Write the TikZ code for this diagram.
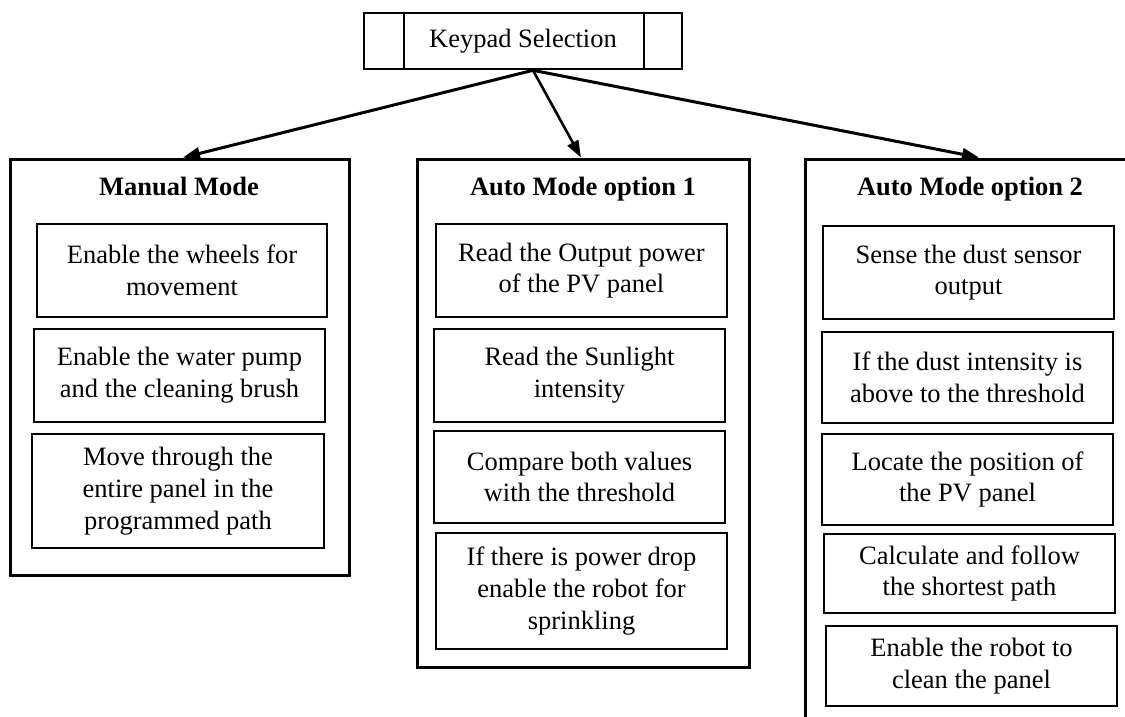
\documentclass[tikz,border=0pt]{standalone}
\usepackage{fontspec}
\setmainfont{Liberation Serif}
\usetikzlibrary{arrows.meta}
\begin{document}
\begin{tikzpicture}[x=1pt,y=-1pt,
  txt/.style={font=\fontsize{26.5}{31.7}\selectfont},
  box/.style={draw, line width=2.8pt, inner sep=0pt, align=center, txt},
  outerbox/.style={draw, line width=3pt, inner sep=0pt},
  ttl/.style={inner sep=0pt, anchor=base, font=\fontsize{26.5}{31.7}\selectfont\bfseries},
  arr/.style={line width=3pt, -{Triangle[length=17pt,width=12pt]}}]
\clip (0,0) rectangle (1125,716);
\fill[white] (0,0) rectangle (1125,716);

% top box
\node[box, line width=2.6pt, minimum width=318pt, minimum height=56pt] (kp) at (523,41) {Keypad Selection};
\draw[line width=2.2pt] ([xshift=41pt]kp.north west) -- ([xshift=41pt]kp.south west);
\draw[line width=2.2pt] ([xshift=-39pt]kp.north east) -- ([xshift=-39pt]kp.south east);

% outer boxes
\node[outerbox, minimum width=339pt, minimum height=416pt] (man) at (179.5,367) {};
\node[outerbox, minimum width=332pt, minimum height=508pt] (au1) at (583,413) {};
\node[outerbox, minimum width=330pt, minimum height=621pt] (au2) at (970,469.5) {};

% titles
\node[ttl] (tman) at (179,195) {Manual Mode};
\node[ttl] (tau1) at (583,195) {Auto Mode option 1};
\node[ttl] (tau2) at (970,195) {Auto Mode option 2};

% manual mode steps
\node[box, minimum width=290pt, minimum height=93pt] (m1) at (182,270.5) {Enable the wheels for\\movement};
\node[box, minimum width=291pt, minimum height=93pt] (m2) at (179.5,375.5) {Enable the water pump\\and the cleaning brush};
\node[box, minimum width=292pt, minimum height=114pt] (m3) at (178,491) {Move through the\\entire panel in the\\programmed path};

% auto mode 1 steps
\node[box, minimum width=291pt, minimum height=93pt] (a1) at (581.5,270.5) {Read the Output power\\of the PV panel};
\node[box, minimum width=291pt, minimum height=93pt] (a2) at (579.5,375.5) {Read the Sunlight\\intensity};
\node[box, minimum width=291pt, minimum height=92pt] (a3) at (579.5,477) {Compare both values\\with the threshold};
\node[box, minimum width=291pt, minimum height=116pt] (a4) at (581.5,591) {If there is power drop\\enable the robot for\\sprinkling};

% auto mode 2 steps
\node[box, minimum width=291pt, minimum height=93pt] (b1) at (968.5,272.5) {Sense the dust sensor\\output};
\node[box, minimum width=291pt, minimum height=91pt] (b2) at (967.5,377.5) {If the dust intensity is\\above to the threshold};
\node[box, minimum width=291pt, minimum height=91pt] (b3) at (967.5,479.5) {Locate the position of\\the PV panel};
\node[box, minimum width=291pt, minimum height=79pt] (b4) at (969.5,573.5) {Calculate and follow\\the shortest path};
\node[box, minimum width=291pt, minimum height=80pt] (b5) at (971.5,666) {Enable the robot to\\clean the panel};

% arrows
\draw[arr] ([xshift=10pt]kp.south) -- ([xshift=3.5pt]man.north);
\draw[arr, line width=2.6pt] ([xshift=10pt]kp.south) -- ([xshift=-2pt]au1.north);
\draw[arr] ([xshift=10pt]kp.south) -- ([xshift=9pt]au2.north);
\end{tikzpicture}
\end{document}
